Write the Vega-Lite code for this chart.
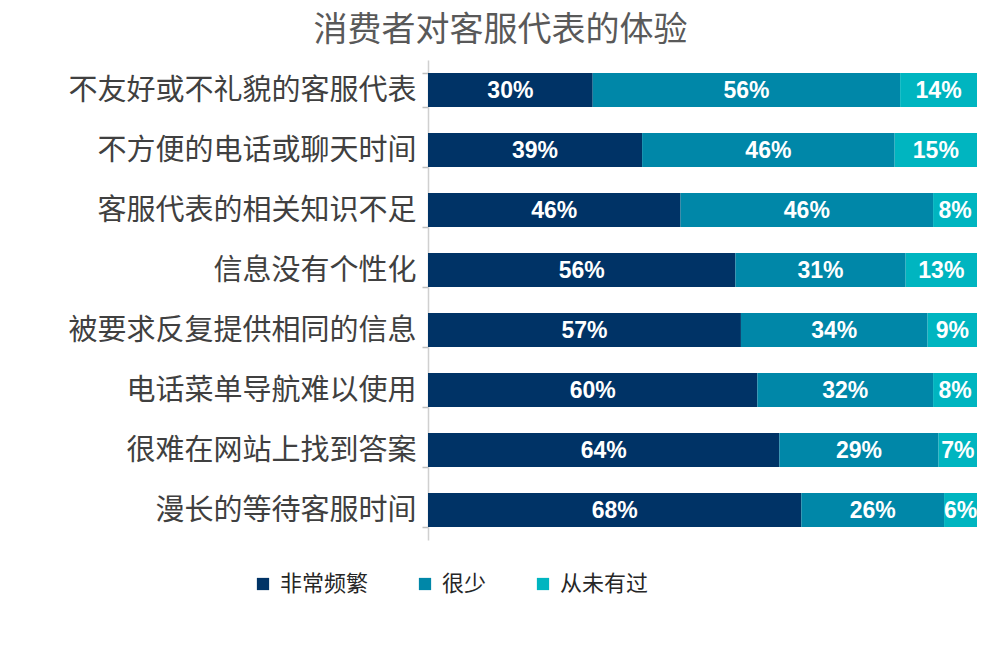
{
  "$schema": "https://vega.github.io/schema/vega-lite/v6.json",
  "width": 549,
  "height": 480,
  "autosize": {"type": "none"},
  "padding": {"left": 428, "top": 60, "right": 23, "bottom": 120},
  "background": "white",
  "title": {
    "text": "消费者对客服代表的体验",
    "font": "Noto Sans CJK SC",
    "fontSize": 34,
    "fontWeight": "normal",
    "color": "#595959",
    "anchor": "middle",
    "dx": -202,
    "dy": 12,
    "offset": 10
  },
  "config": {"view": {"stroke": null}},
  "data": {
    "values": [
      {"item": "不友好或不礼貌的客服代表", "freq": "非常频繁", "k": 1, "pct": 30},
      {"item": "不友好或不礼貌的客服代表", "freq": "很少", "k": 2, "pct": 56},
      {"item": "不友好或不礼貌的客服代表", "freq": "从未有过", "k": 3, "pct": 14},
      {"item": "不方便的电话或聊天时间", "freq": "非常频繁", "k": 1, "pct": 39},
      {"item": "不方便的电话或聊天时间", "freq": "很少", "k": 2, "pct": 46},
      {"item": "不方便的电话或聊天时间", "freq": "从未有过", "k": 3, "pct": 15},
      {"item": "客服代表的相关知识不足", "freq": "非常频繁", "k": 1, "pct": 46},
      {"item": "客服代表的相关知识不足", "freq": "很少", "k": 2, "pct": 46},
      {"item": "客服代表的相关知识不足", "freq": "从未有过", "k": 3, "pct": 8},
      {"item": "信息没有个性化", "freq": "非常频繁", "k": 1, "pct": 56},
      {"item": "信息没有个性化", "freq": "很少", "k": 2, "pct": 31},
      {"item": "信息没有个性化", "freq": "从未有过", "k": 3, "pct": 13},
      {"item": "被要求反复提供相同的信息", "freq": "非常频繁", "k": 1, "pct": 57},
      {"item": "被要求反复提供相同的信息", "freq": "很少", "k": 2, "pct": 34},
      {"item": "被要求反复提供相同的信息", "freq": "从未有过", "k": 3, "pct": 9},
      {"item": "电话菜单导航难以使用", "freq": "非常频繁", "k": 1, "pct": 60},
      {"item": "电话菜单导航难以使用", "freq": "很少", "k": 2, "pct": 32},
      {"item": "电话菜单导航难以使用", "freq": "从未有过", "k": 3, "pct": 8},
      {"item": "很难在网站上找到答案", "freq": "非常频繁", "k": 1, "pct": 64},
      {"item": "很难在网站上找到答案", "freq": "很少", "k": 2, "pct": 29},
      {"item": "很难在网站上找到答案", "freq": "从未有过", "k": 3, "pct": 7},
      {"item": "漫长的等待客服时间", "freq": "非常频繁", "k": 1, "pct": 68},
      {"item": "漫长的等待客服时间", "freq": "很少", "k": 2, "pct": 26},
      {"item": "漫长的等待客服时间", "freq": "从未有过", "k": 3, "pct": 6}
    ]
  },
  "transform": [
    {"stack": "pct", "groupby": ["item"], "sort": [{"field": "k", "order": "ascending"}], "as": ["s0", "s1"]},
    {"calculate": "(datum.s0 + datum.s1) / 2", "as": "mid"},
    {"calculate": "datum.pct + '%'", "as": "lbl"}
  ],
  "encoding": {
    "y": {
      "field": "item",
      "type": "nominal",
      "sort": ["不友好或不礼貌的客服代表", "不方便的电话或聊天时间", "客服代表的相关知识不足", "信息没有个性化", "被要求反复提供相同的信息", "电话菜单导航难以使用", "很难在网站上找到答案", "漫长的等待客服时间"],
      "scale": {"paddingInner": 0.43, "paddingOuter": 0.215},
      "axis": {
        "title": null,
        "labelFont": "Noto Sans CJK SC",
        "labelFontSize": 29,
        "labelColor": "#404040",
        "labelPadding": 6,
        "labelLimit": 0,
        "domainColor": "#d0d0d0",
        "domainWidth": 1.5,
        "tickColor": "#bdbdbd",
        "tickWidth": 1.5,
        "tickSize": 6,
        "tickBand": "extent",
        "ticks": true
      }
    }
  },
  "layer": [
    {
      "mark": {"type": "bar"},
      "encoding": {
        "x": {"field": "s0", "type": "quantitative", "scale": {"domain": [0, 100]}, "axis": null},
        "x2": {"field": "s1"},
        "color": {
          "field": "freq",
          "type": "nominal",
          "scale": {"domain": ["非常频繁", "很少", "从未有过"], "range": ["#003366", "#0087a8", "#00b5c0"]},
          "legend": {
            "title": null,
            "orient": "none",
            "direction": "horizontal",
            "legendX": -176,
            "legendY": 513,
            "symbolType": "square",
            "symbolSize": 150,
            "symbolStrokeWidth": 0,
            "labelFont": "Noto Sans CJK SC",
            "labelFontSize": 22,
            "labelColor": "#262626",
            "labelOffset": 6,
            "columnPadding": 45
          }
        }
      }
    },
    {
      "mark": {"type": "text", "color": "white", "font": "Liberation Sans", "fontWeight": "bold", "fontSize": 23, "align": "center", "baseline": "middle", "dy": 1},
      "encoding": {
        "x": {"field": "mid", "type": "quantitative"},
        "text": {"field": "lbl"}
      }
    }
  ]
}
